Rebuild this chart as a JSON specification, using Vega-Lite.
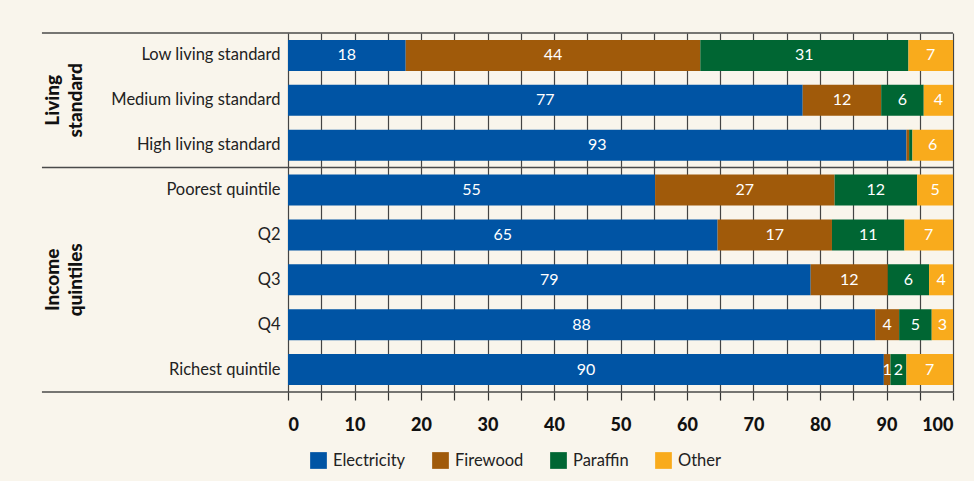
{
  "$schema": "https://vega.github.io/schema/vega-lite/v6.json",
  "width": 665,
  "height": 359,
  "autosize": {"type": "none"},
  "padding": {"left": 288, "top": 33, "right": 21, "bottom": 89},
  "background": "#f9f5ec",
  "config": {
    "font": "Lato",
    "view": {"stroke": null},
    "axisX": {
      "values": [0, 10, 20, 30, 40, 50, 60, 70, 80, 90, 100],
      "grid": true,
      "gridColor": "#444444",
      "gridWidth": 1.2,
      "domain": false,
      "tickSize": 8,
      "tickColor": "#333333",
      "tickWidth": 1.2,
      "labelFontSize": 18,
      "labelFontWeight": 900,
      "labelPadding": 16,
      "labelColor": "#111111",
      "title": null
    },
    "axisY": {
      "title": null,
      "domain": false,
      "ticks": false,
      "grid": false,
      "labelFontSize": 16.5,
      "labelPadding": 8,
      "labelColor": "#222222"
    }
  },
  "datasets": {
    "shares": [
      {"row": "Low living standard", "fuel": "Electricity", "share": 17.7},
      {"row": "Low living standard", "fuel": "Firewood", "share": 44.3},
      {"row": "Low living standard", "fuel": "Paraffin", "share": 31.3},
      {"row": "Low living standard", "fuel": "Other", "share": 6.7},
      {"row": "Medium living standard", "fuel": "Electricity", "share": 77.4},
      {"row": "Medium living standard", "fuel": "Firewood", "share": 11.8},
      {"row": "Medium living standard", "fuel": "Paraffin", "share": 6.4},
      {"row": "Medium living standard", "fuel": "Other", "share": 4.4},
      {"row": "High living standard", "fuel": "Electricity", "share": 93.0},
      {"row": "High living standard", "fuel": "Firewood", "share": 0.4},
      {"row": "High living standard", "fuel": "Paraffin", "share": 0.5},
      {"row": "High living standard", "fuel": "Other", "share": 6.1},
      {"row": "Poorest quintile", "fuel": "Electricity", "share": 55.2},
      {"row": "Poorest quintile", "fuel": "Firewood", "share": 27.0},
      {"row": "Poorest quintile", "fuel": "Paraffin", "share": 12.4},
      {"row": "Poorest quintile", "fuel": "Other", "share": 5.4},
      {"row": "Q2", "fuel": "Electricity", "share": 64.6},
      {"row": "Q2", "fuel": "Firewood", "share": 17.2},
      {"row": "Q2", "fuel": "Paraffin", "share": 10.9},
      {"row": "Q2", "fuel": "Other", "share": 7.3},
      {"row": "Q3", "fuel": "Electricity", "share": 78.6},
      {"row": "Q3", "fuel": "Firewood", "share": 11.6},
      {"row": "Q3", "fuel": "Paraffin", "share": 6.2},
      {"row": "Q3", "fuel": "Other", "share": 3.6},
      {"row": "Q4", "fuel": "Electricity", "share": 88.3},
      {"row": "Q4", "fuel": "Firewood", "share": 3.6},
      {"row": "Q4", "fuel": "Paraffin", "share": 4.9},
      {"row": "Q4", "fuel": "Other", "share": 3.2},
      {"row": "Richest quintile", "fuel": "Electricity", "share": 89.6},
      {"row": "Richest quintile", "fuel": "Firewood", "share": 1.0},
      {"row": "Richest quintile", "fuel": "Paraffin", "share": 2.4},
      {"row": "Richest quintile", "fuel": "Other", "share": 7.0}
    ],
    "groups": [
      {"label": ["Living", "standard"], "row": "Medium living standard"},
      {"label": ["Income", "quintiles"], "row": "Q3"}
    ],
    "groupTops": [
      {"row": "Low living standard"},
      {"row": "Poorest quintile"}
    ],
    "groupBottom": [
      {"row": "Richest quintile"}
    ]
  },
  "encoding": {
    "y": {
      "field": "row",
      "type": "nominal",
      "sort": ["Low living standard", "Medium living standard", "High living standard", "Poorest quintile", "Q2", "Q3", "Q4", "Richest quintile"],
      "scale": {
        "domain": ["Low living standard", "Medium living standard", "High living standard", "Poorest quintile", "Q2", "Q3", "Q4", "Richest quintile"],
        "paddingInner": 0.31,
        "paddingOuter": 0.155
      },
      "axis": {}
    }
  },
  "layer": [
    {
      "data": {"name": "shares"},
      "transform": [
        {"calculate": "indexof(['Electricity', 'Firewood', 'Paraffin', 'Other'], datum.fuel)", "as": "fuelOrder"},
        {"stack": "share", "groupby": ["row"], "sort": [{"field": "fuelOrder"}], "as": ["start", "end"]},
        {"calculate": "(datum.start + datum.end) / 2", "as": "mid"}
      ],
      "layer": [
        {
          "mark": {"type": "bar"},
          "encoding": {
            "x": {"field": "start", "type": "quantitative", "scale": {"domain": [0, 100], "nice": false}},
            "x2": {"field": "end"},
            "color": {
              "field": "fuel",
              "type": "nominal",
              "scale": {
                "domain": ["Electricity", "Firewood", "Paraffin", "Other"],
                "range": ["#0054a4", "#a05a0a", "#006633", "#f9ab1c"]
              },
              "legend": {
                "orient": "none",
                "legendX": 22,
                "legendY": 419,
                "direction": "horizontal",
                "title": null,
                "symbolType": "square",
                "symbolSize": 280,
                "symbolStrokeWidth": 0,
                "symbolOpacity": 1,
                "labelFontSize": 16.5,
                "labelColor": "#222222",
                "columnPadding": 26,
                "labelOffset": 6
              }
            }
          }
        },
        {
          "transform": [{"filter": "datum.share >= 0.8"}],
          "mark": {"type": "text", "color": "#ffffff", "fontSize": 16, "align": "center", "baseline": "middle"},
          "encoding": {
            "x": {"field": "mid", "type": "quantitative"},
            "text": {"field": "share", "type": "quantitative", "format": ".0f"}
          }
        }
      ]
    },
    {
      "data": {"name": "groupTops"},
      "mark": {"type": "rule", "color": "#4a4a4a", "strokeWidth": 1.5},
      "encoding": {
        "y": {"field": "row", "type": "nominal", "bandPosition": -0.225},
        "x": {"datum": -37},
        "x2": {"datum": 100}
      }
    },
    {
      "data": {"name": "groupBottom"},
      "mark": {"type": "rule", "color": "#4a4a4a", "strokeWidth": 1.5},
      "encoding": {
        "y": {"field": "row", "type": "nominal", "bandPosition": 1.225},
        "x": {"datum": -37},
        "x2": {"datum": 100}
      }
    },
    {
      "data": {"name": "groups"},
      "mark": {"type": "text", "angle": 270, "fontWeight": 900, "fontSize": 19, "lineHeight": 23, "align": "center", "baseline": "middle", "color": "#111111"},
      "encoding": {
        "y": {"field": "row", "type": "nominal"},
        "x": {"datum": -35.4},
        "text": {"field": "label"}
      }
    }
  ]
}
